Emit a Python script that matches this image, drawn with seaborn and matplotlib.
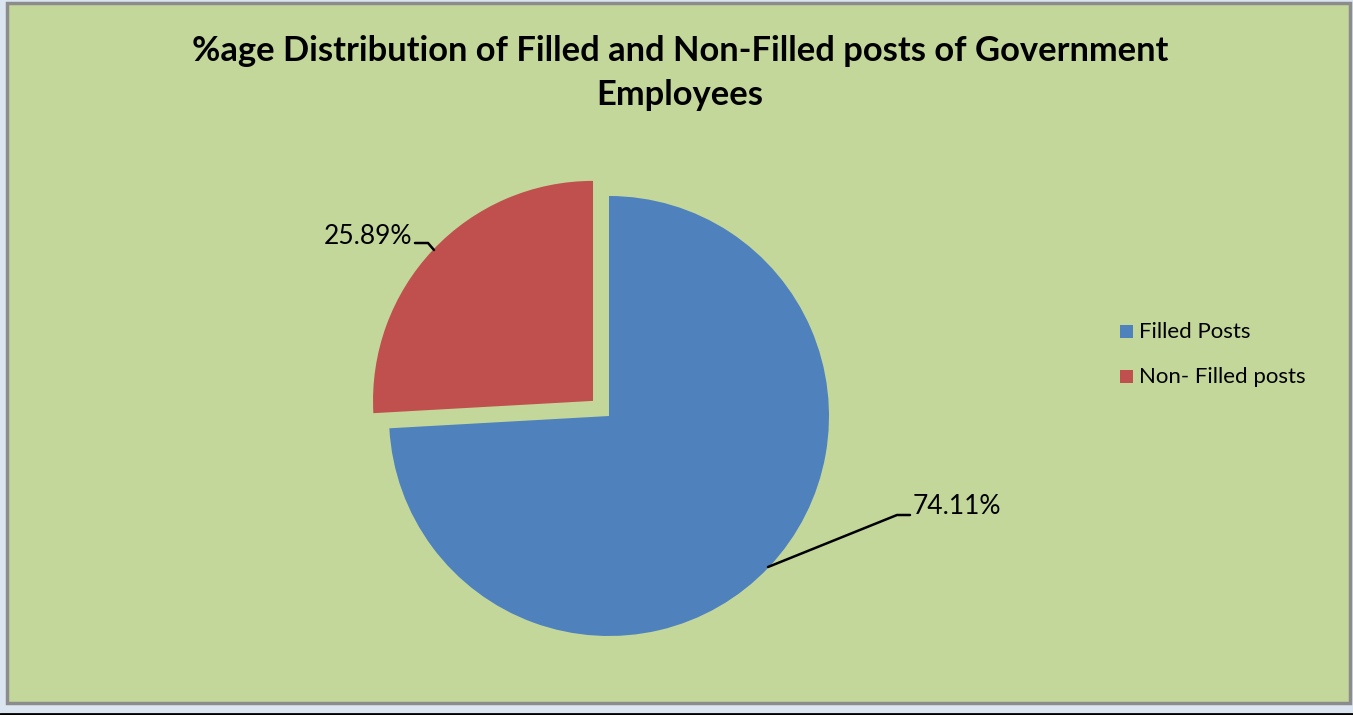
import numpy as np
import seaborn as sns
import matplotlib.pyplot as plt
from matplotlib.patches import Rectangle

# Данные
categories = ["Filled Posts", "Non- Filled posts"]
shares = [74.11, 25.89]
pct_labels = ["74.11%", "25.89%"]
colors = ["#4f81bd", "#c0504d"]

sns.set_theme(style="white")
plt.rcParams["font.family"] = ["Lato", "DejaVu Sans"]
plt.rcParams["text.color"] = "black"

W, H = 1353, 715
fig = plt.figure(figsize=(W / 100, H / 100), dpi=100)
fig.patch.set_facecolor("#dbe5f1")

# оси в пикселях, y вверх
ax = fig.add_axes([0, 0, 1, 1])

# Панель графика
ax.add_patch(Rectangle((7, H - 703), 1343, 700, facecolor="#c4d79b",
                       edgecolor="#8c8c8c", linewidth=2.5, zorder=0))
ax.plot([0, W], [1.5, 1.5], color="black", lw=2, zorder=1)

# === Круговая диаграмма ===
cx, cy, r = 609, H - 416, 220
wedges, _ = ax.pie(shares, colors=colors, startangle=90, counterclock=False,
                   explode=[0, 22], radius=r, center=(cx, cy),
                   wedgeprops={"linewidth": 0}, frame=True)
ax.set_xlim(0, W)
ax.set_ylim(0, H)
ax.set_aspect("equal")
ax.axis("off")

# Подписи с выносками
ax.plot([768, 897, 910], [H - 567, H - 515, H - 515], color="black", lw=1.8, zorder=3)
ax.text(913, H - 507, pct_labels[0], fontsize=19, va="center", ha="left")
ax.plot([415, 428, 434], [H - 243, H - 243, H - 250], color="black", lw=1.8, zorder=3)
ax.text(412, H - 237, pct_labels[1], fontsize=19, va="center", ha="right")

# Заголовок
ax.text(680, H - 73, "%age Distribution of Filled and Non-Filled posts of Government\nEmployees",
        fontsize=24.8, fontweight="bold", ha="center", va="center", linespacing=1.47)

# Легенда
for i, (lab, col) in enumerate(zip(categories, colors)):
    y = H - 332 - 45 * i
    ax.add_patch(Rectangle((1120, y - 6), 13, 13, facecolor=col, edgecolor="none"))
    ax.text(1139, y, lab, fontsize=16, va="center", ha="left")

plt.savefig("out.png", dpi=100)
plt.close()
